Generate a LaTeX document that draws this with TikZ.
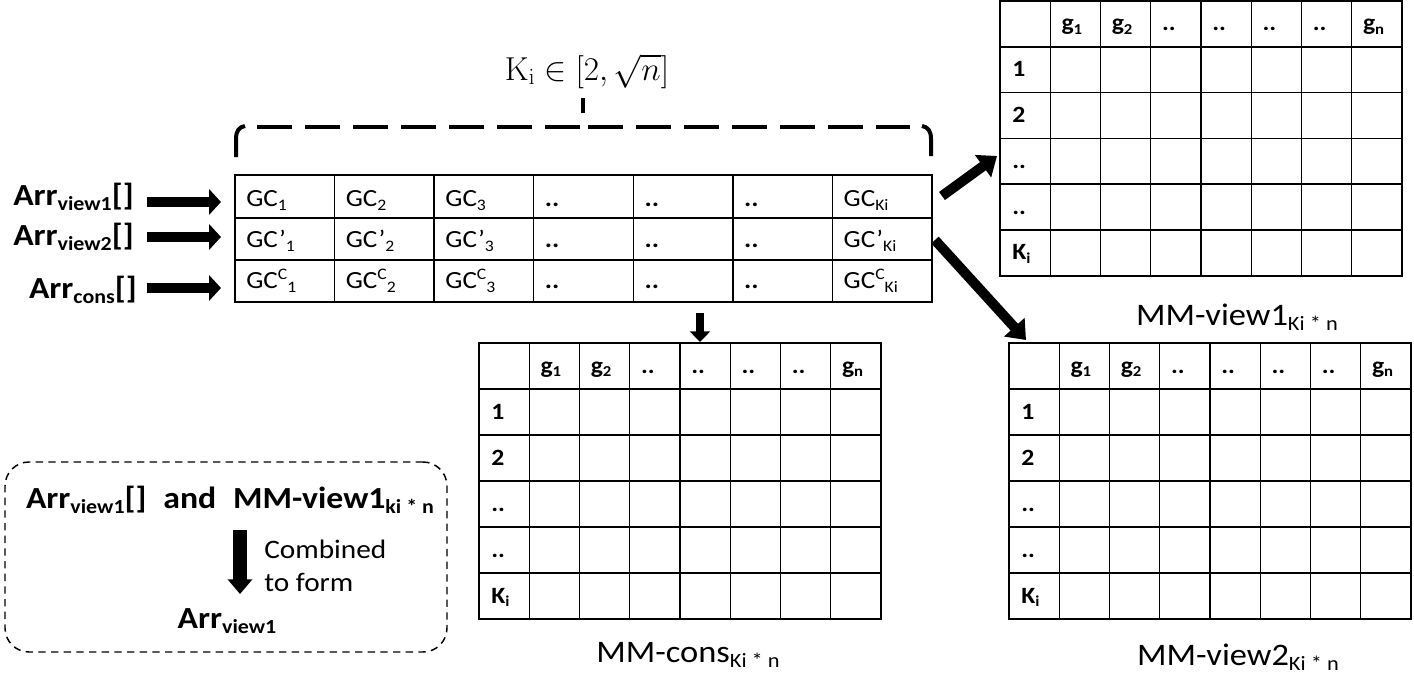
\documentclass[tikz,border=0pt]{standalone}
\usepackage[no-math]{fontspec}
\setmainfont{Carlito}[FakeStretch=1.1]
\usetikzlibrary{arrows.meta}
\makeatletter
\newcommand\lo[1]{\raisebox{-0.17em}{\fontsize{\strip@pt\dimexpr0.65\dimexpr\f@size pt\relax\relax}{0}\selectfont #1}}
\newcommand\hi[1]{\raisebox{0.33em}{\fontsize{\strip@pt\dimexpr0.65\dimexpr\f@size pt\relax\relax}{0}\selectfont #1}}
\makeatother
\tikzset{
  gridline/.style={line width=1.1pt},
  tabframe/.style={draw, line width=1.1pt, inner sep=0pt},
  mcell/.style={anchor=base west, inner sep=0pt, font=\fontsize{17.5}{20}\selectfont\bfseries},
  gcell/.style={anchor=base west, inner sep=0pt, font=\fontsize{18.5}{21}\selectfont},
  lab/.style={inner sep=0pt, font=\fontsize{23}{27}\selectfont\bfseries},
  mmlab/.style={anchor=base, inner sep=0pt, font=\fontsize{23.5}{27}\selectfont},
  fatarrow/.style={line width=7.5pt, -{Triangle[length=9pt,width=19pt]}},
  diagarrow/.style={line width=7.5pt, -{Triangle[length=13pt,width=20pt]}},
  smallarrow/.style={line width=6pt, -{Triangle[length=8pt,width=15pt]}},
  combarrow/.style={line width=10pt, -{Triangle[length=11pt,width=18pt]}},
  bracket/.style={line width=3pt},
  dashbox/.style={draw, line width=1.1pt, dash pattern=on 5.5pt off 4pt, rounded corners=18pt, inner sep=0pt}
}
\newcommand\mmtab[4]{%
 \begin{scope}[shift={(#2,#3)}]
  \node[tabframe, minimum width=301.5pt, minimum height={4.5pt*#4}] (#1) at (201,{3*#4}) {};
  \foreach \i in {1,...,7} \draw[gridline] ({\i*50.25},0) -- ({\i*50.25},{6*#4});
  \foreach \j in {1,...,5} \draw[gridline] (0,{\j*#4}) -- (402,{\j*#4});
  \foreach \c/\t in {1/g\lo{1},2/g\lo{2},3/..,4/..,5/..,6/..,7/g\lo{n}}
    \node[mcell] at ({\c*50.25+11},{0.5*#4+7}) {\t};
  \foreach \r/\t in {1/1,2/2,3/..,4/..,5/K\lo{i}}
    \node[mcell] at (12,{(\r+0.5)*#4+7}) {\t};
 \end{scope}}
\begin{document}
\begin{tikzpicture}[x=0.75pt,y=-0.75pt]
\useasboundingbox (0,0) rectangle (1414,674);
\fill[white] (0,0) rectangle (1414,674);

% range label and bracket
\node[inner sep=0pt, anchor=base, font=\fontsize{25.5}{30}\selectfont] (range) at (587,80) {$\mathrm{K}_{\mathrm{i}}\in[2,\sqrt{n}]$};
\draw[bracket] (583,98) -- (583,113);
\draw[bracket, dash pattern=on 26pt off 10pt] (257,127) -- (580,127);
\draw[bracket, dash pattern=on 26pt off 10pt] (588,127) -- (910,127);
\draw[bracket] (236,157) -- (236,139) .. controls (236,131) and (239,127) .. (245,126);
\draw[bracket] (922,126) .. controls (928,127) and (931,131) .. (931,139) -- (931,156);

% central table
\node[tabframe, minimum width=522.75pt, minimum height=95.25pt] (ct) at (583.5,238.5) {};
\foreach \k in {1,...,6} \draw[gridline] ({235+\k*99.57},175) -- ({235+\k*99.57},302);
\draw[gridline] (235,218) -- (932,218);
\draw[gridline] (235,260) -- (932,260);
\foreach \c/\t in {0/GC\lo{1},1/GC\lo{2},2/GC\lo{3},3/\textbf{..},4/\textbf{..},5/\textbf{..},6/GC\lo{Ki}}
  \node[gcell] at ({246+\c*99.57},206) {\t};
\foreach \c/\t in {0/GC’\lo{1},1/GC’\lo{2},2/GC’\lo{3},3/\textbf{..},4/\textbf{..},5/\textbf{..},6/GC’\lo{Ki}}
  \node[gcell] at ({246+\c*99.57},247) {\t};
\foreach \c/\t in {0/GC\hi{C}\lo{1},1/GC\hi{C}\lo{2},2/GC\hi{C}\lo{3},3/\textbf{..},4/\textbf{..},5/\textbf{..},6/GC\hi{C}\lo{Ki}}
  \node[gcell] at ({246+\c*99.57},288) {\t};

% input arrays
\node[lab, anchor=base east] (av1) at (134,205) {Arr\lo{view1}[]};
\node[lab, anchor=base east] (av2) at (134,245) {Arr\lo{view2}[]};
\node[lab, anchor=base east] (ac) at (137,298) {Arr\lo{cons}[]};
\coordinate (a1s) at (147,202); \coordinate (a1e) at (221,202);
\coordinate (a2s) at (147,237); \coordinate (a2e) at (221,237);
\coordinate (a3s) at (147,288); \coordinate (a3e) at (221,288);
\draw[fatarrow] (a1s) -- (a1e);
\draw[fatarrow] (a2s) -- (a2e);
\draw[fatarrow] (a3s) -- (a3e);

% membership matrices
\mmtab{mv1}{1000}{1}{45.8}
\mmtab{mc}{479}{343}{46}
\mmtab{mv2}{1009}{343}{46}
\node[mmlab] (lv1) at (1237,325) {MM-view1\lo{Ki * n}};
\node[mmlab] (lc) at (688,662) {MM-cons\lo{Ki * n}};
\node[mmlab] (lv2) at (1238,665) {MM-view2\lo{Ki * n}};

% connectors from central table
\coordinate (d1s) at (942,196); \coordinate (d1e) at (997,156);
\coordinate (d2s) at (935,240); \coordinate (d2e) at (1026,340);
\coordinate (dcs) at (700,313); \coordinate (dce) at (700,342);
\draw[diagarrow] (d1s) -- (d1e);
\draw[diagarrow] (d2s) -- (d2e);
\draw[smallarrow] (dcs) -- (dce);

% note box
\node[dashbox, minimum width=331.5pt, minimum height=142.5pt] (note) at (226,557) {};
\node[lab, anchor=base] (ntop) at (230,508) {Arr\lo{view1}[]\hspace{0.55em}and\hspace{0.55em}MM-view1\lo{ki * n}};
\node[inner sep=0pt, anchor=west, align=left, font=\fontsize{20}{25}\selectfont] (comb) at (264,566) {Combined\\to form};
\node[lab, anchor=base] (nres) at (227,628) {Arr\lo{view1}};
\coordinate (cbs) at (240,530); \coordinate (cbe) at (240,594);
\draw[combarrow] (cbs) -- (cbe);
\end{tikzpicture}
\end{document}
